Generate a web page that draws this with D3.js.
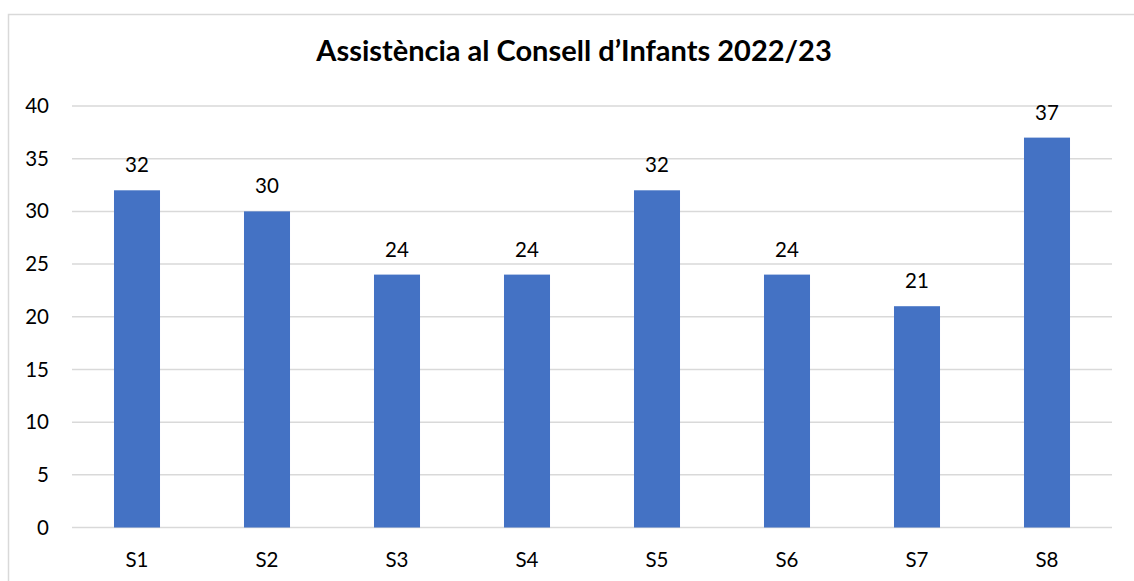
<!DOCTYPE html>
<html>
<head>
<meta charset="utf-8">
<script src="https://cdn.jsdelivr.net/npm/d3@7"></script>
<style>
  body { margin: 0; background: #fff; }
  svg { display: block; font-family: Lato, "Open Sans", sans-serif; }
</style>
</head>
<body>
<svg id="chart" width="1134" height="581"></svg>
<script>
const sessions = ["S1", "S2", "S3", "S4", "S5", "S6", "S7", "S8"];
const attendance = [32, 30, 24, 24, 32, 24, 21, 37];
const yTicks = [0, 5, 10, 15, 20, 25, 30, 35, 40];
const title = "Assistència al Consell d\u2019Infants 2022/23";

const svg = d3.select("#chart");
const plot = { left: 72, right: 1112, top: 106, bottom: 527.5 };
const labelSize = 20.5;

// chart frame
svg.append("rect")
  .attr("x", 8.5).attr("y", 14.5)
  .attr("width", 1140).attr("height", 600)
  .attr("fill", "#fff")
  .attr("stroke", "#d9d9d9")
  .attr("stroke-width", 1.5);

const x = d3.scaleBand()
  .domain(sessions)
  .range([plot.left, plot.right])
  .paddingInner(0.646)
  .paddingOuter(0.323);

const y = d3.scaleLinear().domain([0, 40]).range([plot.bottom, plot.top]);

// gridlines
svg.append("g")
  .selectAll("line")
  .data(yTicks)
  .join("line")
  .attr("x1", plot.left).attr("x2", plot.right)
  .attr("y1", d => y(d)).attr("y2", d => y(d))
  .attr("stroke", "#d9d9d9")
  .attr("stroke-width", 1.5);

// y axis labels
const yAxis = svg.append("g")
  .attr("transform", `translate(${plot.left},0)`)
  .call(d3.axisLeft(y).tickValues(yTicks).tickSize(0).tickPadding(23));
yAxis.select(".domain").remove();
yAxis.selectAll("text")
  .attr("font-family", "Lato, sans-serif")
  .attr("font-size", labelSize)
  .attr("fill", "#000");

// x axis labels
const xAxis = svg.append("g")
  .attr("transform", `translate(0,${plot.bottom})`)
  .call(d3.axisBottom(x).tickSize(0).tickPadding(25));
xAxis.select(".domain").remove();
xAxis.selectAll("text")
  .attr("font-family", "Lato, sans-serif")
  .attr("font-size", labelSize)
  .attr("fill", "#000");

// bars
svg.append("g")
  .selectAll("rect")
  .data(attendance)
  .join("rect")
  .attr("x", (d, i) => x(sessions[i]))
  .attr("y", d => y(d))
  .attr("width", x.bandwidth())
  .attr("height", d => y(0) - y(d))
  .attr("fill", "#4472c4");

// value labels
svg.append("g")
  .selectAll("text")
  .data(attendance)
  .join("text")
  .attr("x", (d, i) => x(sessions[i]) + x.bandwidth() / 2)
  .attr("y", d => y(d) - 18)
  .attr("text-anchor", "middle")
  .attr("font-size", labelSize)
  .attr("fill", "#000")
  .text(d => d);

svg.append("text")
  .attr("x", 574)
  .attr("y", 61)
  .attr("text-anchor", "middle")
  .attr("font-size", 29)
  .attr("font-weight", "bold")
  .attr("fill", "#000")
  .text(title);
</script>
</body>
</html>
